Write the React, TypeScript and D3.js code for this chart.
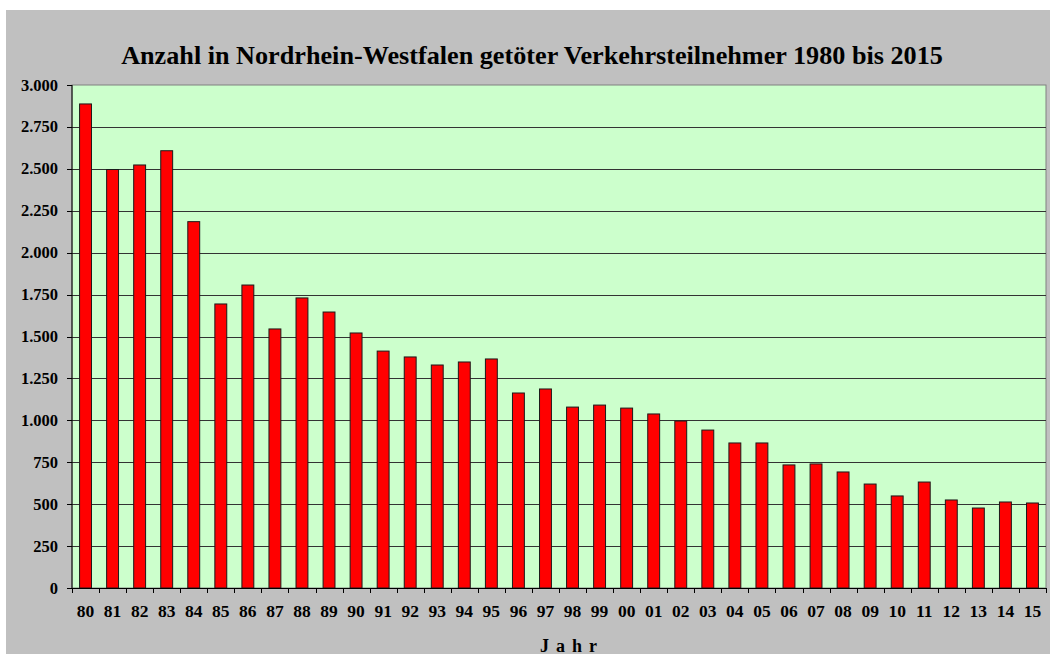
import { useMemo } from 'react';
import * as d3 from 'd3';

const years = ['80', '81', '82', '83', '84', '85', '86', '87', '88', '89', '90', '91', '92', '93', '94', '95', '96', '97', '98', '99', '00', '01', '02', '03', '04', '05', '06', '07', '08', '09', '10', '11', '12', '13', '14', '15'];
const killed = [2887, 2496, 2523, 2608, 2185, 1694, 1807, 1545, 1730, 1646, 1521, 1413, 1378, 1330, 1348, 1366, 1163, 1187, 1079, 1091, 1073, 1038, 996, 942, 865, 865, 734, 740, 692, 620, 549, 632, 525, 477, 513, 507];
const yTicks = [0, 250, 500, 750, 1000, 1250, 1500, 1750, 2000, 2250, 2500, 2750, 3000];

const TITLE = 'Anzahl in Nordrhein-Westfalen getöter Verkehrsteilnehmer 1980 bis 2015';
const W = 1050;
const H = 654;
const PLOT = { left: 72, right: 1046, top: 85, bottom: 588 };
const SERIF = '"Liberation Serif", "Times New Roman", serif';

const de = d3.formatLocale({ decimal: ',', thousands: '.', grouping: [3], currency: ['', ' €'] });
const fmt = de.format(',d');

export default function App() {
  const x = useMemo(
    () => d3.scaleBand<string>().domain(years).range([PLOT.left, PLOT.right]).paddingInner(0.56).paddingOuter(0.28),
    []
  );
  const y = useMemo(() => d3.scaleLinear().domain([0, 3000]).range([PLOT.bottom, PLOT.top]), []);
  const step = x.step();

  return (
    <svg width={W} height={H} style={{ position: 'absolute', left: 0, top: 0, background: '#fff' }}>
      <rect x={6} y={10} width={W - 6} height={H - 10} fill="#C0C0C0" />
      <text x={532} y={64} textAnchor="middle" fontFamily={SERIF} fontWeight="bold" fontSize={26.2} fill="#000">
        {TITLE}
      </text>

      {/* plot area */}
      <rect x={PLOT.left} y={PLOT.top} width={PLOT.right - PLOT.left} height={PLOT.bottom - PLOT.top} fill="#CCFFCC" stroke="#808080" strokeWidth={1} />

      {/* gridlines */}
      {yTicks.slice(1, -1).map((t) => (
        <line key={t} x1={PLOT.left} x2={PLOT.right} y1={Math.round(y(t)) + 0.5} y2={Math.round(y(t)) + 0.5} stroke="#333" strokeWidth={1} />
      ))}

      {/* bars */}
      {years.map((yr, i) => (
        <rect
          key={yr}
          x={x(yr)!}
          y={y(killed[i])}
          width={x.bandwidth()}
          height={y(0) - y(killed[i])}
          fill="#FF0000"
          stroke="#1a1a1a"
          strokeWidth={1}
        />
      ))}

      {/* y axis */}
      <line x1={PLOT.left} x2={PLOT.left} y1={PLOT.top} y2={PLOT.bottom} stroke="#000" />
      {yTicks.map((t) => (
        <g key={t}>
          <line x1={PLOT.left - 5} x2={PLOT.left} y1={Math.round(y(t)) + 0.5} y2={Math.round(y(t)) + 0.5} stroke="#000" />
          <text x={PLOT.left - 14} y={y(t) + 5.5} textAnchor="end" fontFamily={SERIF} fontWeight="bold" fontSize={16.5} fill="#000">
            {fmt(t)}
          </text>
        </g>
      ))}

      {/* x axis */}
      <line x1={PLOT.left} x2={PLOT.right} y1={PLOT.bottom + 0.5} y2={PLOT.bottom + 0.5} stroke="#000" />
      {d3.range(years.length + 1).map((i) => (
        <line key={i} x1={Math.round(PLOT.left + i * step) + 0.5} x2={Math.round(PLOT.left + i * step) + 0.5} y1={PLOT.bottom} y2={PLOT.bottom + 5} stroke="#000" />
      ))}
      {years.map((yr) => (
        <text key={yr} x={x(yr)! + x.bandwidth() / 2} y={617} textAnchor="middle" fontFamily={SERIF} fontWeight="bold" fontSize={17.5} fill="#000">
          {yr}
        </text>
      ))}
      <text x={572} y={652} textAnchor="middle" fontFamily={SERIF} fontWeight="bold" fontSize={18} letterSpacing={7} fill="#000">
        Jahr
      </text>
    </svg>
  );
}
